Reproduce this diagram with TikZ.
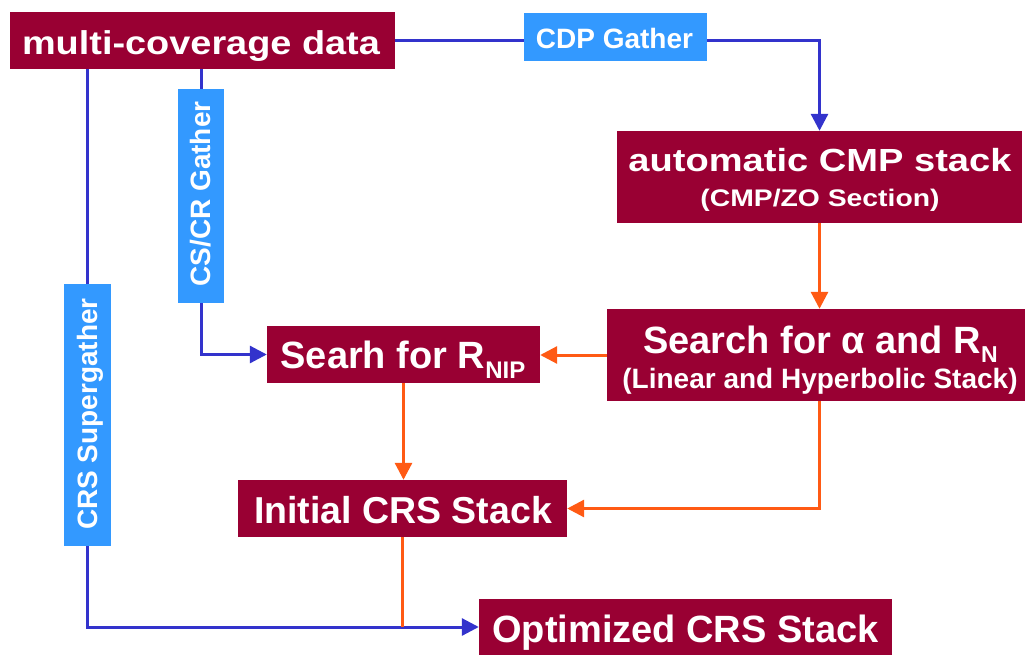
\documentclass[tikz,border=0pt]{standalone}
\usepackage{fontspec}
\setmainfont{Liberation Sans}
\usepackage{graphicx}
\usetikzlibrary{arrows.meta,backgrounds}

\definecolor{boxred}{RGB}{153,0,51}
\definecolor{tagblue}{RGB}{51,153,255}
\definecolor{lineblue}{RGB}{51,51,204}
\definecolor{lineorange}{RGB}{255,90,20}

\newcommand\fsz[1]{\fontsize{#1}{#1}\selectfont}

\tikzset{
  box/.style={rectangle, fill=boxred, inner sep=0pt},
  tag/.style={rectangle, fill=tagblue, inner sep=0pt},
  txt/.style={text=white, inner sep=0pt, anchor=base},
  blueline/.style={draw=lineblue, line width=3pt},
  orangeline/.style={draw=lineorange, line width=3pt},
  tip/.style={-{Triangle[length=17pt,width=17pt]}},
}

\begin{document}
\begin{tikzpicture}[x=1pt,y=-1pt]
\useasboundingbox (0,0) rectangle (1028,655);

% process boxes
\node[box, minimum width=385pt, minimum height=57pt] (multi)   at (202.5,40.5) {};
\node[box, minimum width=405pt, minimum height=92pt] (cmp)     at (819.5,177)  {};
\node[box, minimum width=418pt, minimum height=92pt] (search)  at (816,355)    {};
\node[box, minimum width=273pt, minimum height=57pt] (nip)     at (403.5,354.5){};
\node[box, minimum width=329pt, minimum height=57pt] (initial) at (402.5,508.5){};
\node[box, minimum width=413pt, minimum height=56pt] (opt)     at (685.5,627)  {};

% gather tags
\node[tag, minimum width=183pt, minimum height=48pt] (cdp)  at (615.5,37) {};
\node[tag, minimum width=46pt,  minimum height=214pt] (cscr) at (201,196)  {};
\node[tag, minimum width=47pt,  minimum height=262pt] (crs)  at (87.5,415) {};

% box texts
\node[txt, font=\bfseries\fsz{33}] (multi-t) at (201,55) {\scalebox{1.148}[1]{multi-coverage data}};
\node[txt, font=\bfseries\fsz{32}] (cmp-t1) at (820,172) {\scalebox{1.19}[1]{automatic CMP stack}};
\node[txt, font=\bfseries\fsz{24}] (cmp-t2) at (820,207) {\scalebox{1.18}[1]{(CMP/ZO Section)}};
\node[txt, font=\bfseries\fsz{38}] (search-t1) at (820.5,353) {Search for α and R\raisebox{-9pt}{\fsz{23}N}};
\node[txt, font=\bfseries\fsz{28}] (search-t2) at (820,388) {(Linear and Hyperbolic Stack)};
\node[txt, font=\bfseries\fsz{38}] (nip-t) at (403,368) {Searh for R\raisebox{-10pt}{\fsz{24}NIP}};
\node[txt, font=\bfseries\fsz{37.5}] (initial-t) at (403,523) {Initial CRS Stack};
\node[txt, font=\bfseries\fsz{38}] (opt-t) at (685.5,642) {Optimized CRS Stack};

% tag texts
\node[txt, font=\bfseries\fsz{28}] (cdp-t) at (614.5,48.8) {CDP Gather};
\node[txt, font=\bfseries\fsz{28}, rotate=90] (cscr-t) at (210,194) {CS/CR Gather};
\node[txt, font=\bfseries\fsz{28}, rotate=90] (crs-t) at (97,414) {CRS Supergather};

% connectors
\begin{scope}[on background layer]
  % data gathers
  \draw[blueline] (multi.east) -- (multi.east -| cdp.west);
  \draw[blueline, tip] (cdp.east |- multi.east) -| (cmp.north);
  \draw[blueline] (cscr.north |- multi.south) -- (cscr.north);
  \draw[blueline, tip] (cscr.south) |- (nip.west);
  \draw[blueline] (crs.north |- multi.south) -- (crs.north);
  \draw[blueline, tip] (crs.south) |- (opt.west);
  % processing chain
  \draw[orangeline, tip] (cmp.south) -- (cmp.south |- search.north);
  \draw[orangeline, tip] (search.west) -- (search.west -| nip.east);
  \draw[orangeline, tip] (nip.south) -- (nip.south |- initial.north);
  \draw[orangeline, tip] (cmp.south |- search.south) |- (initial.east);
  \draw[orangeline] (initial.south) -- (initial.south |- opt.west);
\end{scope}
\end{tikzpicture}
\end{document}
